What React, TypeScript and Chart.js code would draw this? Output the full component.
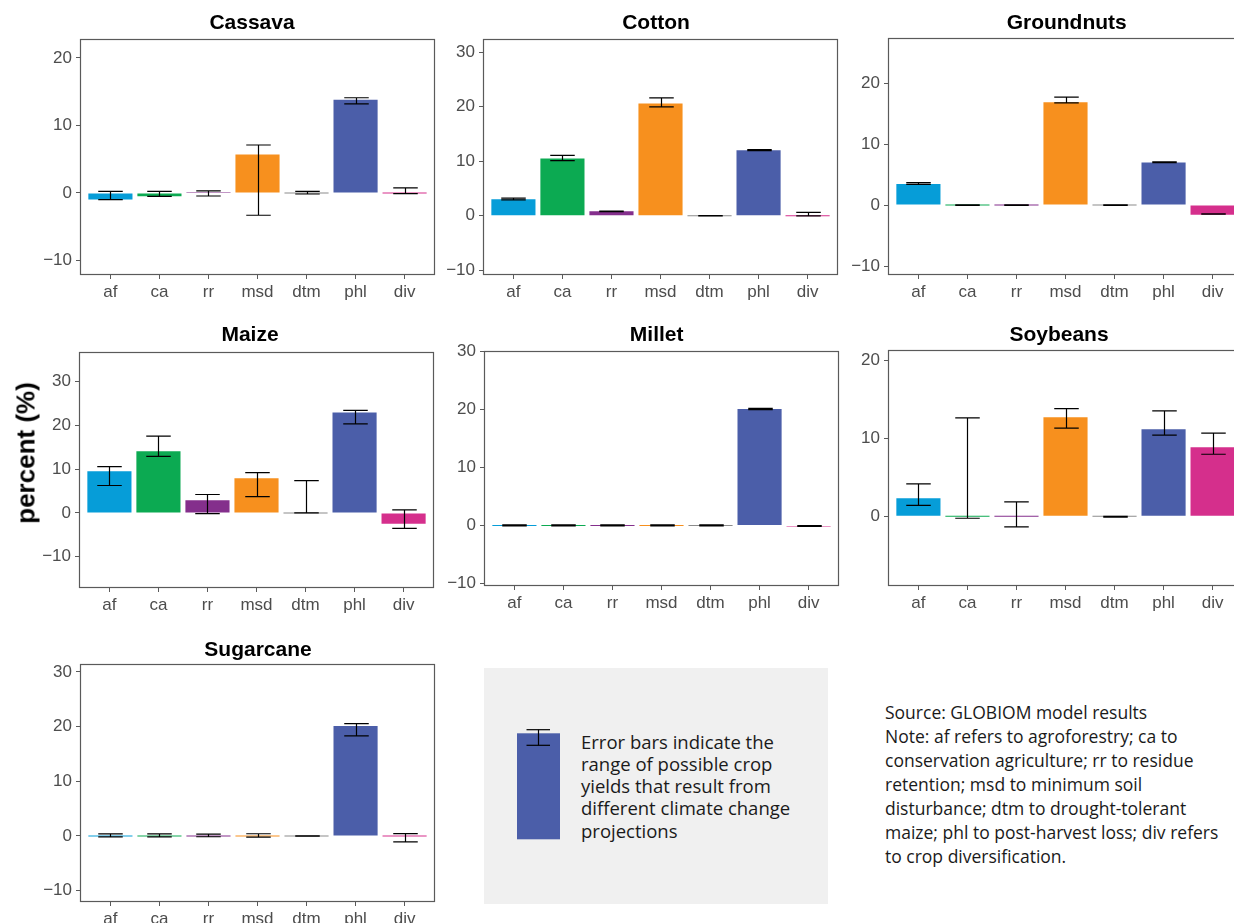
import React, { useEffect, useRef } from "react";
import { Chart, registerables } from "chart.js";

Chart.register(...registerables);

// ---------- data ----------
const categories = ["af", "ca", "rr", "msd", "dtm", "phl", "div"];
const barColors = ["#069dd8", "#0caa52", "#842f8c", "#f7901e", "#8c8c8c", "#4b5ea9", "#d52f8c"];

const cassavaValues = [-0.95, -0.5, 0.05, 5.7, 0, 13.8, 0];
const cassavaLow = [-1.0, -0.5, -0.45, -3.3, -0.15, 13.2, -0.1];
const cassavaHigh = [0.25, 0.25, 0.3, 7.1, 0.25, 14.1, 0.75];

const cottonValues = [3.0, 10.5, 0.8, 20.55, 0, 12.0, 0];
const cottonLow = [2.9, 10.1, 0.75, 19.95, -0.05, 11.9, -0.05];
const cottonHigh = [3.2, 11.05, 0.85, 21.6, 0.02, 12.1, 0.6];

const groundnutsValues = [3.45, 0, 0, 16.85, 0, 7.0, -1.6];
const groundnutsLow = [3.4, -0.05, -0.05, 16.75, -0.05, 6.95, -1.5];
const groundnutsHigh = [3.7, 0.05, 0.05, 17.7, 0.05, 7.1, -1.45];

const maizeValues = [9.5, 14.05, 2.9, 7.9, 0, 22.9, -2.5];
const maizeLow = [6.25, 12.9, -0.15, 3.7, 0, 20.3, -3.55];
const maizeHigh = [10.55, 17.5, 4.2, 9.2, 7.35, 23.4, 0.7];

const milletValues = [0, 0, 0, 0, 0, 20.1, -0.1];
const milletLow = [-0.05, -0.05, -0.05, -0.05, -0.05, 20.0, -0.15];
const milletHigh = [0.1, 0.1, 0.1, 0.1, 0.1, 20.2, 0.0];

const soybeansValues = [2.3, 0, 0, 12.7, 0, 11.15, 8.85];
const soybeansLow = [1.4, -0.25, -1.35, 11.3, -0.1, 10.4, 7.95];
const soybeansHigh = [4.15, 12.6, 1.85, 13.8, 0, 13.5, 10.65];

const sugarcaneValues = [0, 0, 0, 0, 0, 20.1, 0];
const sugarcaneLow = [-0.18, -0.18, -0.15, -0.2, -0.05, 18.3, -1.1];
const sugarcaneHigh = [0.37, 0.37, 0.35, 0.4, 0, 20.55, 0.43];

const panelTitles = ["Cassava", "Cotton", "Groundnuts", "Maize", "Millet", "Soybeans", "Sugarcane"];
const panelValues = [cassavaValues, cottonValues, groundnutsValues, maizeValues, milletValues, soybeansValues, sugarcaneValues];
const panelLow = [cassavaLow, cottonLow, groundnutsLow, maizeLow, milletLow, soybeansLow, sugarcaneLow];
const panelHigh = [cassavaHigh, cottonHigh, groundnutsHigh, maizeHigh, milletHigh, soybeansHigh, sugarcaneHigh];
const panelYRange = [[-12, 22.8], [-10.7, 32.4], [-11.3, 27.4], [-16.9, 36.7], [-10.26, 30.1], [-8.8, 21.3], [-11.9, 31.45]];
const panelYTicks = [
  [-10, 0, 10, 20],
  [-10, 0, 10, 20, 30],
  [-10, 0, 10, 20],
  [-10, 0, 10, 20, 30],
  [-10, 0, 10, 20, 30],
  [0, 10, 20],
  [-10, 0, 10, 20, 30],
];

const yAxisTitle = "percent (%)";
const legendText = ["Error bars indicate the", "range of possible crop", "yields that result from", "different climate change", "projections"];
const noteText = [
  "Source: GLOBIOM model results",
  "Note: af refers to agroforestry; ca to",
  "conservation agriculture; rr to residue",
  "retention; msd to minimum soil",
  "disturbance; dtm to drought-tolerant",
  "maize; phl to post-harvest loss; div refers",
  "to crop diversification.",
];

// ---------- layout (positions of each panel's plot box) ----------
const panelBoxes = [
  { left: 81, top: 39, right: 434, bottom: 274, titleX: 252, titleY: 23 },
  { left: 484, top: 39, right: 837, bottom: 274, titleX: 656, titleY: 23 },
  { left: 889, top: 38, right: 1242, bottom: 274, titleX: 1066.7, titleY: 23 },
  { left: 80, top: 352, right: 433, bottom: 587, titleX: 250, titleY: 335 },
  { left: 485, top: 351, right: 838, bottom: 585, titleX: 656.7, titleY: 335 },
  { left: 889, top: 350, right: 1242, bottom: 585, titleX: 1059, titleY: 335 },
  { left: 81, top: 664, right: 434, bottom: 901, titleX: 258, titleY: 650 },
];

const Y_AXIS_W = 55;
const X_AXIS_H = 32;
const RIGHT_PAD = 30;
const TICK_FONT = { family: "'Liberation Sans', Arial, sans-serif", size: 17 };
const TICK_COLOR = "#4d4d4d";
const LINE_COLOR = "#5a5a5a";

function fmtTick(v: number) {
  return v < 0 ? "\u2212" + Math.abs(v) : String(v);
}

function Panel({ idx }: { idx: number }) {
  const ref = useRef<HTMLCanvasElement | null>(null);
  const box = panelBoxes[idx];
  const canvasLeft = box.left - Y_AXIS_W;
  const canvasTop = box.titleY - 20;
  const width = box.right - box.left + Y_AXIS_W + RIGHT_PAD;
  const height = box.bottom - canvasTop + X_AXIS_H;

  useEffect(() => {
    const canvas = ref.current;
    if (!canvas) return;
    const values = panelValues[idx];
    const low = panelLow[idx];
    const high = panelHigh[idx];
    const [yMin, yMax] = panelYRange[idx];
    const yTicks = panelYTicks[idx];
    const title = panelTitles[idx];
    const titleDx = box.titleX - (box.left + box.right) / 2;
    const titleDy = box.top - box.titleY;

    const borderPlugin = {
      id: "panelBorder",
      afterDatasetsDraw(chart: any) {
        const { ctx, chartArea: a } = chart;
        ctx.save();
        ctx.strokeStyle = LINE_COLOR;
        ctx.lineWidth = 1.2;
        ctx.strokeRect(a.left - 0.5, a.top + 0.5, a.right - a.left + 1, a.bottom - a.top);
        ctx.restore();
      },
    };

    const errorBarsPlugin = {
      id: "errorBars",
      afterDatasetsDraw(chart: any) {
        const { ctx } = chart;
        const xs = chart.scales.x;
        const ys = chart.scales.y;
        const unit = xs.getPixelForValue(1) - xs.getPixelForValue(0);
        const half = unit * 0.25;
        ctx.save();
        ctx.strokeStyle = "#000";
        ctx.lineWidth = 1.2;
        low.forEach((lo, i) => {
          const hi = high[i];
          const px = Math.round(xs.getPixelForValue(i)) + 0.5;
          const y1 = ys.getPixelForValue(hi);
          const y2 = ys.getPixelForValue(lo);
          ctx.beginPath();
          ctx.moveTo(px, y1);
          ctx.lineTo(px, y2);
          ctx.moveTo(px - half, y1);
          ctx.lineTo(px + half, y1);
          ctx.moveTo(px - half, y2);
          ctx.lineTo(px + half, y2);
          ctx.stroke();
        });
        ctx.restore();
      },
    };

    const titlePlugin = {
      id: "panelTitle",
      afterDraw(chart: any) {
        const { ctx, chartArea: a } = chart;
        ctx.save();
        ctx.font = "bold 21px 'Liberation Sans', Arial, sans-serif";
        ctx.fillStyle = "#000";
        ctx.textAlign = "center";
        ctx.textBaseline = "middle";
        ctx.fillText(title, (a.left + a.right) / 2 + titleDx, a.top - titleDy);
        ctx.restore();
      },
    };

    const chart = new Chart(canvas, {
      type: "bar",
      data: {
        datasets: [
          {
            data: values.map((v, i) => ({ x: i, y: v })),
            backgroundColor: barColors,
            borderWidth: 0,
            barPercentage: 0.9,
            categoryPercentage: 1,
            minBarLength: 1,
          } as any,
        ],
      },
      options: {
        responsive: false,
        animation: false,
        devicePixelRatio: 1,
        layout: { padding: { top: box.top - canvasTop, right: RIGHT_PAD, left: 0, bottom: 0 } },
        plugins: {
          legend: { display: false },
          tooltip: { enabled: false },
          title: { display: false },
        },
        scales: {
          x: {
            type: "linear",
            min: -0.6,
            max: 6.6,
            offset: false,
            afterBuildTicks: (s: any) => {
              s.ticks = categories.map((_, i) => ({ value: i }));
            },
            afterFit: (s: any) => {
              s.height = X_AXIS_H;
            },
            ticks: {
              callback: (v: any) => categories[Math.round(Number(v))],
              color: TICK_COLOR,
              font: TICK_FONT,
              padding: 3,
              maxRotation: 0,
              autoSkip: false,
            },
            grid: { drawOnChartArea: false, drawTicks: true, tickLength: 5, color: LINE_COLOR, offset: false },
            border: { display: false },
          },
          y: {
            type: "linear",
            min: yMin,
            max: yMax,
            afterBuildTicks: (s: any) => {
              s.ticks = yTicks.map((v) => ({ value: v }));
            },
            afterFit: (s: any) => {
              s.width = Y_AXIS_W;
            },
            ticks: {
              callback: (v: any) => fmtTick(Number(v)),
              color: TICK_COLOR,
              font: TICK_FONT,
              padding: 4,
            },
            grid: { drawOnChartArea: false, drawTicks: true, tickLength: 5, color: LINE_COLOR },
            border: { display: false },
          },
        },
      } as any,
      plugins: [errorBarsPlugin, borderPlugin, titlePlugin],
    });
    return () => chart.destroy();
  }, [idx]);

  return (
    <canvas
      ref={ref}
      width={width}
      height={height}
      style={{ position: "absolute", left: canvasLeft, top: canvasTop, width, height }}
    />
  );
}

export default function App() {
  return (
    <div
      style={{
        position: "fixed",
        left: 0,
        top: 0,
        width: 1234,
        height: 923,
        overflow: "hidden",
        background: "#fff",
      }}
    >
      {panelTitles.map((_, i) => (
        <Panel key={i} idx={i} />
      ))}
      <div
        style={{
          position: "absolute",
          left: 26,
          top: 452.5,
          transform: "translate(-50%, -50%) rotate(-90deg)",
          whiteSpace: "nowrap",
          font: "bold 26px 'Liberation Sans', Arial, sans-serif",
          color: "#000",
        }}
      >
        {yAxisTitle}
      </div>
      <div
        style={{
          position: "absolute",
          left: 484,
          top: 668,
          width: 344,
          height: 236,
          background: "#f0f0f0",
        }}
      />
      <svg
        width={44}
        height={112}
        style={{ position: "absolute", left: 517, top: 728 }}
      >
        <rect x={0} y={5.3} width={43} height={106} fill="#4b5ea9" />
        <line x1={21.5} y1={1.7} x2={21.5} y2={17.3} stroke="#000" strokeWidth={1.2} />
        <line x1={9.5} y1={1.7} x2={33} y2={1.7} stroke="#000" strokeWidth={1.2} />
        <line x1={9.5} y1={17.3} x2={33} y2={17.3} stroke="#000" strokeWidth={1.2} />
      </svg>
      <div
        style={{
          position: "absolute",
          left: 581,
          top: 730.5,
          font: "18.5px 'Open Sans', 'Noto Sans', sans-serif",
          lineHeight: "22.3px",
          color: "#1a1a1a",
          whiteSpace: "nowrap",
        }}
      >
        {legendText.map((t, i) => (
          <div key={i}>{t}</div>
        ))}
      </div>
      <div
        style={{
          position: "absolute",
          left: 885,
          top: 699.7,
          font: "17.5px 'Open Sans', 'Noto Sans', sans-serif",
          lineHeight: "24px",
          color: "#1a1a1a",
          whiteSpace: "nowrap",
        }}
      >
        {noteText.map((t, i) => (
          <div key={i}>{t}</div>
        ))}
      </div>
    </div>
  );
}
